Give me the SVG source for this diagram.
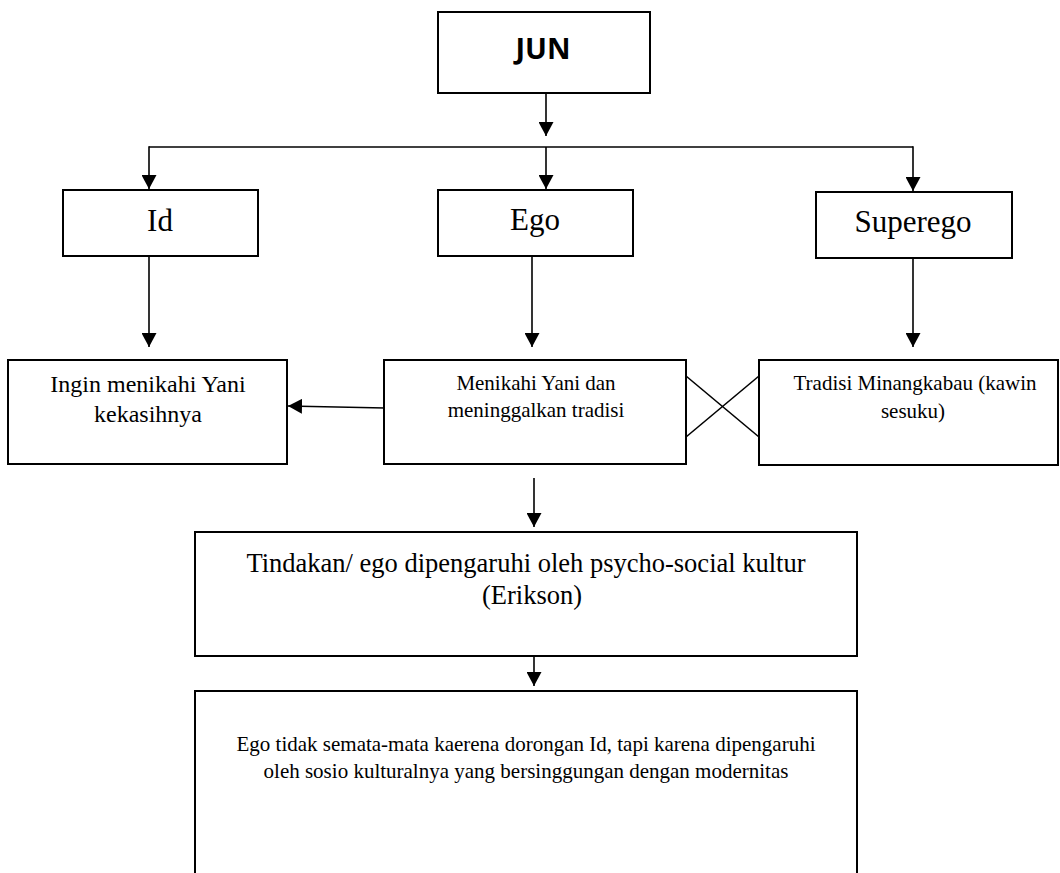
<svg xmlns="http://www.w3.org/2000/svg" width="1060" height="873" viewBox="0 0 1060 873">
<style>
.box{fill:#fff;stroke:#000;stroke-width:2}
.ln{fill:none;stroke:#000;stroke-width:1.6}
.t{font-family:"Liberation Serif","Times New Roman",serif;fill:#000;text-anchor:middle}
.b{font-family:"Open Sans","Liberation Sans",Arial,sans-serif;font-weight:bold;fill:#000;text-anchor:middle}
</style>
<defs>
<marker id="ah" viewBox="0 0 14 15" refX="14" refY="7.5" markerWidth="14" markerHeight="15" markerUnits="userSpaceOnUse" orient="auto">
<path d="M0,0 L14,7.5 L0,15 Z" fill="#000"/>
</marker>
</defs>
<rect width="1060" height="873" fill="#fff"/>
<g id="connectors">
<line class="ln" x1="546" y1="93" x2="546" y2="136" marker-end="url(#ah)"/>
<line class="ln" x1="149" y1="147" x2="913" y2="147"/>
<line class="ln" x1="149" y1="146.2" x2="149" y2="189" marker-end="url(#ah)"/>
<line class="ln" x1="546" y1="147" x2="546" y2="189" marker-end="url(#ah)"/>
<line class="ln" x1="913" y1="146.2" x2="913" y2="191" marker-end="url(#ah)"/>
<line class="ln" x1="149" y1="256" x2="149" y2="347" marker-end="url(#ah)"/>
<line class="ln" x1="532" y1="257" x2="532" y2="347" marker-end="url(#ah)"/>
<line class="ln" x1="913" y1="258" x2="913" y2="347" marker-end="url(#ah)"/>
<line class="ln" x1="385" y1="408" x2="288" y2="406" marker-end="url(#ah)"/>
<line class="ln" x1="686" y1="376" x2="759" y2="437"/>
<line class="ln" x1="686" y1="437" x2="759" y2="376"/>
<line class="ln" x1="534" y1="478" x2="534" y2="527" marker-end="url(#ah)"/>
<line class="ln" x1="534" y1="656" x2="534" y2="686" marker-end="url(#ah)"/>
</g>
<g id="jun">
<rect class="box" x="438" y="12" width="212" height="81"/>
<text class="b" x="543" y="59" font-size="29">JUN</text>
</g>
<g id="id">
<rect class="box" x="63" y="190" width="195" height="66"/>
<text class="t" x="160" y="231" font-size="31">Id</text>
</g>
<g id="ego">
<rect class="box" x="438" y="190" width="195" height="66"/>
<text class="t" x="535" y="230" font-size="31">Ego</text>
</g>
<g id="superego">
<rect class="box" x="816" y="192" width="196" height="66"/>
<text class="t" x="913" y="232" font-size="31">Superego</text>
</g>
<g id="ingin">
<rect class="box" x="8" y="360" width="279" height="104"/>
<text class="t" x="148" y="392" font-size="24">Ingin menikahi Yani</text>
<text class="t" x="148" y="422" font-size="24">kekasihnya</text>
</g>
<g id="menikahi">
<rect class="box" x="384" y="360" width="302" height="104"/>
<text class="t" x="536" y="390" font-size="21">Menikahi Yani dan</text>
<text class="t" x="536" y="417" font-size="21">meninggalkan tradisi</text>
</g>
<g id="tradisi">
<rect class="box" x="759" y="360" width="299" height="105"/>
<text class="t" x="915" y="390" font-size="21">Tradisi Minangkabau (kawin</text>
<text class="t" x="913" y="418" font-size="21">sesuku)</text>
</g>
<g id="tindakan">
<rect class="box" x="195" y="532" width="662" height="124"/>
<text class="t" x="526" y="572" font-size="26.5">Tindakan/ ego dipengaruhi oleh psycho-social kultur</text>
<text class="t" x="532" y="604" font-size="26.5">(Erikson)</text>
</g>
<g id="kesimpulan">
<path class="box" d="M195,880 L195,691 L857,691 L857,880"/>
<text class="t" x="526" y="751" font-size="21">Ego tidak semata-mata kaerena dorongan Id, tapi karena dipengaruhi</text>
<text class="t" x="526" y="778" font-size="21">oleh sosio kulturalnya yang bersinggungan dengan modernitas</text>
</g>
</svg>
